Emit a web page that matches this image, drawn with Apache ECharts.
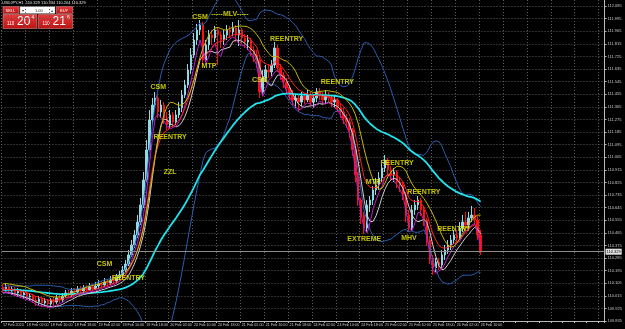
<!DOCTYPE html>
<html>
<head>
<meta charset="utf-8">
<script src="https://cdn.jsdelivr.net/npm/echarts@6/dist/echarts.min.js"></script>
<style>
  html, body { margin: 0; padding: 0; background: #000; }
  #chart { width: 625px; height: 329px; }
</style>
</head>
<body>
<div id="chart"></div>
<script>
// USDJPY H1, one bar per hour from 17 Feb 2020 18:00 to 26 Feb 2020 10:00
const firstOpen = 110.078

const closes = [
  110.057, 110.078, 110.049, 110.064, 110.035, 110.049, 110.021, 110.035, 110.007, 110.014,
  109.985, 109.971, 109.992, 109.964, 109.978, 109.957, 109.985, 109.971, 109.999, 109.985,
  110.014, 110.035, 110.021, 110.049, 110.042, 110.064, 110.049, 110.071, 110.057, 110.078,
  110.064, 110.085, 110.099, 110.092, 110.114, 110.107, 110.128, 110.121, 110.142, 110.164,
  110.199, 110.242, 110.307, 110.378, 110.449, 110.542, 110.664, 110.842, 111.057, 111.271,
  111.378, 111.428, 111.328, 111.378, 111.285, 111.235, 111.307, 111.257, 111.307, 111.357,
  111.449, 111.521, 111.628, 111.735, 111.842, 111.914, 111.949, 111.699, 111.807, 111.878,
  111.857, 111.914, 111.878, 111.842, 111.878, 111.914, 111.899, 111.928, 111.878, 111.914,
  111.857, 111.828, 111.842, 111.771, 111.735, 111.699, 111.471, 111.571, 111.628, 111.614,
  111.664, 111.785, 111.642, 111.592, 111.542, 111.499, 111.449, 111.414, 111.428, 111.399,
  111.442, 111.414, 111.449, 111.399, 111.428, 111.471, 111.442, 111.414, 111.449, 111.428,
  111.399, 111.414, 111.357, 111.328, 111.285, 111.257, 111.199, 111.057, 110.878, 110.699,
  110.592, 110.499, 110.664, 110.699, 110.771, 110.807, 110.857, 110.928, 110.985, 110.914,
  110.878, 110.899, 110.828, 110.807, 110.735, 110.592, 110.499, 110.628, 110.664, 110.699,
  110.628, 110.557, 110.414, 110.285, 110.214, 110.257, 110.235, 110.307, 110.342, 110.378,
  110.414, 110.449, 110.428, 110.499, 110.542, 110.521, 110.571, 110.592, 110.557, 110.449,
  110.329
]

const highs = [
  110.099, 110.107, 110.092, 110.085, 110.078, 110.071, 110.064, 110.057, 110.049, 110.035,
  110.028, 110.007, 110.014, 110.007, 109.999, 109.992, 109.999, 110.007, 110.021, 110.021,
  110.035, 110.057, 110.057, 110.071, 110.071, 110.085, 110.085, 110.092, 110.092, 110.107,
  110.099, 110.114, 110.128, 110.121, 110.142, 110.135, 110.157, 110.157, 110.171, 110.192,
  110.228, 110.271, 110.342, 110.414, 110.485, 110.592, 110.714, 110.899, 111.128, 111.342,
  111.428, 111.471, 111.449, 111.414, 111.399, 111.328, 111.342, 111.328, 111.342, 111.399,
  111.485, 111.557, 111.671, 111.785, 111.892, 111.957, 111.985, 111.971, 111.842, 111.914,
  111.914, 111.942, 111.928, 111.899, 111.914, 111.949, 111.942, 111.971, 111.949, 111.985,
  111.928, 111.885, 111.878, 111.857, 111.799, 111.771, 111.714, 111.628, 111.664, 111.671,
  111.699, 111.828, 111.807, 111.671, 111.614, 111.571, 111.521, 111.485, 111.457, 111.449,
  111.471, 111.464, 111.485, 111.471, 111.457, 111.499, 111.499, 111.471, 111.485, 111.471,
  111.449, 111.442, 111.428, 111.385, 111.357, 111.314, 111.285, 111.214, 111.071, 110.899,
  110.714, 110.614, 110.699, 110.728, 110.799, 110.857, 110.899, 110.957, 111.021, 110.999,
  110.942, 110.928, 110.914, 110.857, 110.828, 110.757, 110.628, 110.664, 110.699, 110.728,
  110.714, 110.657, 110.571, 110.442, 110.307, 110.285, 110.285, 110.342, 110.378, 110.414,
  110.449, 110.485, 110.485, 110.542, 110.592, 110.614, 110.614, 110.657, 110.642, 110.585,
  110.485
]

const lows = [
  110.035, 110.042, 110.028, 110.021, 110.014, 110.007, 109.999, 109.992, 109.985, 109.978,
  109.964, 109.942, 109.949, 109.935, 109.942, 109.928, 109.935, 109.942, 109.957, 109.964,
  109.971, 109.999, 109.999, 110.007, 110.021, 110.028, 110.028, 110.035, 110.035, 110.049,
  110.042, 110.057, 110.064, 110.071, 110.078, 110.078, 110.092, 110.099, 110.107, 110.128,
  110.149, 110.185, 110.228, 110.292, 110.357, 110.428, 110.521, 110.642, 110.828, 111.042,
  111.235, 111.342, 111.285, 111.285, 111.242, 111.199, 111.214, 111.221, 111.235, 111.285,
  111.328, 111.428, 111.499, 111.599, 111.714, 111.807, 111.878, 111.664, 111.685, 111.771,
  111.807, 111.828, 111.664, 111.785, 111.807, 111.842, 111.857, 111.871, 111.828, 111.799,
  111.814, 111.785, 111.771, 111.728, 111.685, 111.642, 111.428, 111.449, 111.542, 111.571,
  111.585, 111.642, 111.614, 111.557, 111.499, 111.457, 111.414, 111.371, 111.357, 111.328,
  111.371, 111.385, 111.399, 111.371, 111.357, 111.399, 111.414, 111.378, 111.392, 111.399,
  111.364, 111.357, 111.328, 111.285, 111.242, 111.214, 111.142, 111.014, 110.828, 110.657,
  110.528, 110.457, 110.471, 110.614, 110.664, 110.735, 110.771, 110.828, 110.899, 110.878,
  110.842, 110.828, 110.785, 110.757, 110.699, 110.542, 110.471, 110.485, 110.592, 110.628,
  110.585, 110.514, 110.371, 110.242, 110.164, 110.185, 110.199, 110.214, 110.271, 110.314,
  110.342, 110.385, 110.399, 110.414, 110.471, 110.485, 110.499, 110.542, 110.521, 110.414,
  110.307
]

// one time label every 8 bars
const timeTicks = [
  '17 Feb 2020', '18 Feb 02:00', '18 Feb 10:00', '18 Feb 18:00', '19 Feb 02:00', '19 Feb 10:00',
  '19 Feb 18:00', '20 Feb 02:00', '20 Feb 10:00', '20 Feb 18:00', '21 Feb 02:00', '21 Feb 10:00',
  '21 Feb 18:00', '24 Feb 02:00', '24 Feb 10:00', '24 Feb 18:00', '25 Feb 02:00', '25 Feb 10:00',
  '25 Feb 18:00', '26 Feb 02:00', '26 Feb 10:00'
]

const priceTicks = [
  112.085, 111.995, 111.905, 111.815, 111.725, 111.635, 111.545, 111.455, 111.365, 111.275,
  111.185, 111.095, 111.005, 110.915, 110.825, 110.735, 110.645, 110.555, 110.465, 110.375,
  110.285, 110.195, 110.105, 110.015, 109.925, 109.835
]

const bid = 110.329
const quote = ['110.329', '110.334', '110.204', '110.329']

// yellow text objects on the chart
const annText = ['CSM', 'REENTRY', 'CSM', 'REENTRY', 'ZZL', 'CSM', '-----MLV-----', 'MTP', 'CSM',
  'REENTRY', 'REENTRY', 'EXTREME', 'MTP', 'REENTRY', 'MHV', 'REENTRY', 'REENTRY']
const annBar = [34, 42, 52, 56, 56, 66, 76, 69, 86, 95, 112, 121, 124, 132, 136, 141, 151]
const annPrice = [110.242, 110.142, 111.507, 111.149, 110.899, 112.007, 112.028, 111.657, 111.557,
  111.849, 111.542, 110.421, 110.828, 110.964, 110.428, 110.757, 110.492]

const shiftBars = 41 // empty space right of the last bar

// indicators
const sma = (src, n) => src.map((v, i) => {
  const win = src.slice(Math.max(0, i - n + 1), i + 1)
  return win.reduce((a, b) => a + b, 0) / win.length
})

const ema = (src, n) => {
  const k = 2 / (n + 1)
  let prev = src[0]
  return src.map((v, i) => (prev = i === 0 ? v : prev + k * (v - prev)))
}

const bollinger = (src, n, dev) => {
  const mid = sma(src, n)
  const upper = []
  const lower = []
  src.forEach((v, i) => {
    const win = src.slice(Math.max(0, i - n + 1), i + 1)
    const sd = Math.sqrt(win.reduce((a, b) => a + (b - mid[i]) ** 2, 0) / win.length)
    upper.push(mid[i] + dev * sd)
    lower.push(mid[i] - dev * sd)
  })
  return { upper, lower }
}

const r3 = arr => arr.map(v => +v.toFixed(3))

const opens = closes.map((c, i) => (i === 0 ? firstOpen : closes[i - 1]))
const candles = closes.map((c, i) => [opens[i], c, lows[i], highs[i]])

const bands = bollinger(closes, 20, 2)
const lineSeries = [
  { name: 'BB up', data: r3(bands.upper), color: '#2b5db0', width: 1 },
  { name: 'BB low', data: r3(bands.lower), color: '#2b5db0', width: 1 },
  { name: 'EMA50', data: r3(ema(closes, 50)), color: '#1de4ee', width: 1.8 },
  { name: 'white', data: r3(sma(lows, 5)), color: '#cfcfcf', width: 1 },
  { name: 'magenta', data: r3(sma(lows, 2)), color: '#c21cc8', width: 1 },
  { name: 'red', data: r3(ema(closes, 8)), color: '#ff2020', width: 1 },
  { name: 'yellow', data: r3(sma(highs, 8)), color: '#c9b700', width: 1 }
]

const categories = []
for (let i = 0; i < closes.length + shiftBars; i++) {
  categories.push(String(i))
}

const labelFont = 'Liberation Sans'
const gridLine = { color: '#5c5c5c', type: [1, 2], width: 1 }
const chart = echarts.init(document.getElementById('chart'))

const btn = (x, y, w, h) => ({
  type: 'rect',
  shape: { x, y, width: w, height: h },
  style: {
    fill: new echarts.graphic.LinearGradient(0, 0, 0, 1, [
      { offset: 0, color: '#e83a3a' },
      { offset: 1, color: '#b81414' }
    ]),
    stroke: '#f0a0a0',
    lineWidth: 0.5
  }
})
const txt = (x, y, text, size, extra) => ({
  type: 'text',
  x,
  y,
  style: Object.assign({ text, fill: '#ffffff', font: size + 'px ' + labelFont }, extra || {})
})

chart.setOption({
  backgroundColor: '#000000',
  animation: false,
  grid: { left: 0, right: 17, top: 0, bottom: 8 },
  xAxis: {
    type: 'category',
    data: categories,
    boundaryGap: true,
    axisLine: { show: true, lineStyle: { color: '#b8b8b8', width: 1 } },
    axisTick: { show: true, interval: 3, length: 2, lineStyle: { color: '#b8b8b8' } },
    axisLabel: {
      interval: 7,
      align: 'left',
      margin: 2,
      color: '#c8c8c8',
      fontSize: 3.7,
      fontFamily: labelFont,
      formatter: (v, idx) => (idx % 8 === 0 ? (timeTicks[idx / 8] || '') : '')
    },
    splitLine: { show: true, interval: 7, lineStyle: gridLine }
  },
  yAxis: {
    type: 'value',
    position: 'right',
    min: 109.835,
    max: 112.128,
    scale: true,
    axisLine: { show: true, lineStyle: { color: '#b8b8b8', width: 1 } },
    axisTick: { show: true, length: 2, customValues: priceTicks, lineStyle: { color: '#b8b8b8' } },
    axisLabel: {
      customValues: priceTicks,
      margin: 3,
      color: '#c8c8c8',
      fontSize: 4,
      fontFamily: labelFont,
      formatter: v => v.toFixed(3)
    },
    splitLine: { show: true, lineStyle: gridLine }
  },
  series: [
    {
      name: 'USDJPY',
      type: 'candlestick',
      data: candles,
      barWidth: 2,
      itemStyle: {
        color: '#8fd9e4',
        color0: '#ff1010',
        borderColor: '#8fd9e4',
        borderColor0: '#ff1010',
        borderWidth: 1
      },
      markLine: {
        silent: true,
        symbol: 'none',
        data: [{ yAxis: bid }],
        lineStyle: { color: '#8c8c8c', type: 'solid', width: 1 },
        label: {
          position: 'end',
          distance: 1,
          formatter: bid.toFixed(3),
          color: '#000000',
          backgroundColor: '#e0e0e0',
          padding: [1, 1],
          fontSize: 4,
          fontFamily: labelFont
        }
      }
    },
    ...lineSeries.map(s => ({
      name: s.name,
      type: 'line',
      data: s.data,
      showSymbol: false,
      symbol: 'none',
      silent: true,
      lineStyle: { color: s.color, width: s.width }
    })),
    {
      name: 'text',
      type: 'scatter',
      symbolSize: 0.01,
      silent: true,
      z: 10,
      data: annText.map((t, i) => ({ value: [annBar[i], annPrice[i]], name: t })),
      label: {
        show: true,
        position: 'inside',
        formatter: p => p.name,
        color: '#f2f200',
        fontSize: 7,
        fontWeight: 'bold',
        fontFamily: labelFont
      }
    }
  ],
  graphic: [
    txt(2, 0.5, 'USDJPY,H1  ' + quote.join(' '), 4, { fill: '#e0e0e0' }),
    btn(3, 6.5, 16, 7),
    txt(5.5, 8.5, 'SELL', 4),
    { type: 'rect', shape: { x: 20, y: 6.5, width: 35, height: 7 }, style: { fill: '#ffffff', stroke: '#999', lineWidth: 0.5 } },
    txt(22, 8.5, '\u25be', 4, { fill: '#333' }),
    txt(35, 8.5, '1.00', 4, { fill: '#222' }),
    txt(51, 8.5, '\u25b4', 4, { fill: '#333' }),
    btn(56.5, 6.5, 16, 7),
    txt(60, 8.5, 'BUY', 4),
    btn(3, 14.5, 34, 14),
    txt(7, 21, '110', 4.5),
    txt(17, 16, '20', 12),
    txt(31.5, 15.5, '4', 5),
    btn(38.5, 14.5, 34, 14),
    txt(42.5, 21, '110', 4.5),
    txt(52.5, 16, '21', 12),
    txt(67, 15.5, '6', 5)
  ]
})
</script>
</body>
</html>
